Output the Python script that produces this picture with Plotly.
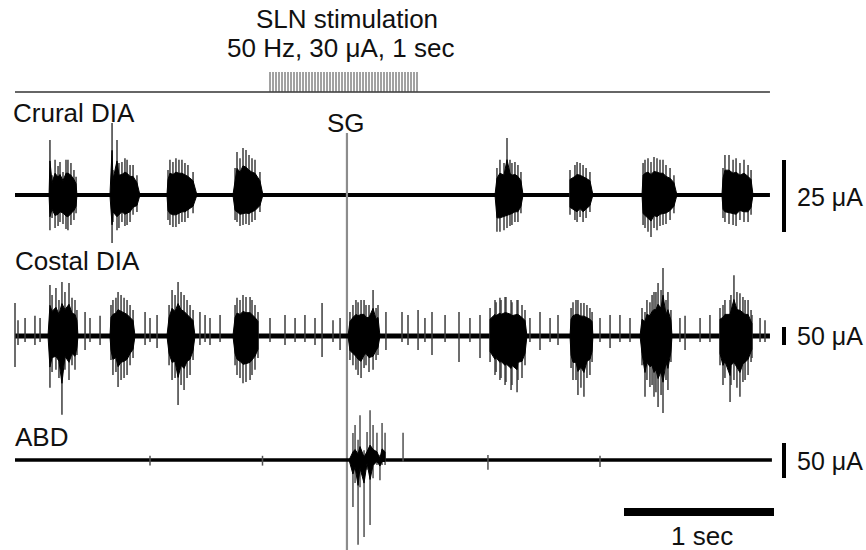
import plotly.graph_objects as go

# ---------------- data (time in s, amplitude in uA) ----------------
trace_end = 5.033
stim_onset = 1.70
stim_rate_hz = 50
stim_duration_s = 1.0
sg_time = 2.213

# Crural DIA bursts (onset / offset)
crural_on = [0.227, 0.633, 1.013, 1.453, 3.200, 3.700, 4.180, 4.713]
crural_off = [0.413, 0.833, 1.213, 1.653, 3.387, 3.853, 4.413, 4.920]
# Crural DIA spikes
crural_spike_t = [0.233, 0.267, 0.300, 0.340, 0.373, 0.647, 0.680, 0.713, 0.747, 0.787,
                  1.033, 1.073, 1.113, 1.153, 1.480, 1.520, 1.560, 1.600,
                  3.213, 3.280, 3.313, 3.353, 3.733, 3.767, 3.807,
                  4.200, 4.240, 4.280, 4.320, 4.367, 4.733, 4.787, 4.833, 4.887,
                  0.247, 0.287, 0.320, 0.353, 0.393, 0.407,
                  0.653, 0.693, 0.733, 0.767, 0.813,
                  1.020, 1.053, 1.093, 1.133, 1.187,
                  1.467, 1.500, 1.540, 1.580, 1.633,
                  3.233, 3.260, 3.300, 3.333, 3.373,
                  3.700, 3.747, 3.787, 3.833,
                  4.187, 4.220, 4.260, 4.300, 4.340, 4.393,
                  4.720, 4.760, 4.807, 4.860, 4.907]
crural_spike_up = [19.1, 12.2, 11.5, 12.2, 11.1, 25.0, 19.1, 11.5, 12.2, 10.4,
                   12.2, 12.8, 12.2, 10.4, 14.9, 16.3, 13.9, 12.2,
                   9.4, 19.8, 11.1, 10.4, 10.4, 11.1, 9.4,
                   12.2, 11.5, 12.8, 12.2, 9.4, 13.9, 12.2, 11.1, 10.4,
                   6.9, 10.1, 8.0, 12.2, 8.7, 6.3,
                   8.7, 11.1, 12.8, 10.4, 6.9,
                   8.7, 11.5, 12.2, 11.1, 8.0,
                   9.4, 12.8, 15.6, 12.8, 8.0,
                   12.2, 11.1, 12.2, 11.5, 8.0,
                   8.7, 11.5, 10.4, 8.0,
                   11.1, 12.8, 13.2, 12.2, 10.4, 6.9,
                   9.4, 13.9, 12.8, 12.2, 8.7]
crural_spike_down = [-12.2, -11.5, -9.4, -11.8, -10.4, -16.7, -12.2, -9.4, -10.4, -6.9,
                     -10.4, -11.1, -9.4, -8.0, -9.4, -10.4, -10.4, -8.7,
                     -12.8, -11.5, -10.4, -9.4, -8.7, -7.6, -8.0,
                     -11.5, -14.6, -12.2, -10.4, -8.7, -9.4, -10.4, -8.7, -9.4,
                     -8.0, -10.8, -10.1, -12.2, -8.7, -6.3,
                     -9.4, -11.5, -10.8, -9.4, -5.9,
                     -8.7, -11.1, -10.1, -9.4, -6.3,
                     -8.7, -10.8, -10.1, -9.4, -5.9,
                     -12.8, -12.2, -10.8, -9.4, -6.3,
                     -6.9, -9.4, -9.4, -5.9,
                     -10.4, -12.8, -11.5, -10.8, -10.1, -6.3,
                     -8.0, -10.1, -10.8, -9.4, -6.9]

# Costal DIA bursts
costal_on = [0.220, 0.633, 1.013, 1.453, 2.220, 3.167, 3.700, 4.167, 4.700]
costal_off = [0.420, 0.800, 1.200, 1.620, 2.433, 3.413, 3.853, 4.380, 4.913]
# Costal DIA spikes
costal_spike_t = [0.000, 0.233, 0.273, 0.313, 0.360, 0.400, 0.653, 0.687, 0.727, 0.767,
                  1.047, 1.087, 1.127, 1.167, 1.233, 1.480, 1.520, 1.567, 1.600,
                  2.273, 2.307, 2.340, 2.387, 2.420,
                  3.200, 3.233, 3.267, 3.307, 3.347, 3.380,
                  3.720, 3.753, 3.793, 3.833,
                  4.200, 4.233, 4.260, 4.287, 4.320, 4.353,
                  4.720, 4.767, 4.793, 4.833, 4.867, 4.913,
                  0.020, 0.067, 0.133, 0.167, 0.467, 0.500, 0.567, 0.867, 0.900, 0.947,
                  1.267, 1.300, 1.367, 1.700, 1.800, 1.867, 1.933, 2.000, 2.047, 2.120,
                  2.167, 2.473, 2.580, 2.620, 2.687, 2.733, 2.780, 2.867, 2.960, 3.033,
                  3.100, 3.433, 3.500, 3.567, 3.620, 3.900, 3.967, 4.033, 4.100, 4.433,
                  4.467, 4.567, 4.633, 4.967, 5.000,
                  0.247, 0.293, 0.333, 0.380, 0.413,
                  0.640, 0.673, 0.707, 0.747, 0.787,
                  1.027, 1.067, 1.107, 1.147, 1.187,
                  1.467, 1.500, 1.540, 1.580, 1.620,
                  2.233, 2.253, 2.287, 2.327, 2.360, 2.407,
                  3.167, 3.207, 3.240, 3.273, 3.313, 3.353, 3.400,
                  3.707, 3.740, 3.773, 3.813, 3.847,
                  4.180, 4.213, 4.247, 4.273, 4.307, 4.340, 4.373,
                  4.700, 4.733, 4.773, 4.813, 4.853, 4.887, 4.907]
costal_spike_up = [92, 142, 133, 150, 147, 100, 100, 122, 106, 86,
                   128, 150, 114, 86, 67, 106, 114, 108, 86,
                   100, 100, 86, 128, 86,
                   100, 106, 108, 100, 100, 86,
                   94, 100, 92, 78,
                   67, 94, 122, 147, 189, 122,
                   86, 100, 169, 119, 100, 58,
                   44, 50, 56, 50, 67, 50, 56, 67, 50, 58,
                   58, 50, 58, 50, 58, 50, 58, 50, 92, 44,
                   50, 67, 67, 58, 72, 50, 67, 58, 67, 50,
                   58, 50, 67, 50, 58, 50, 58, 58, 50, 50,
                   56, 50, 58, 50, 44,
                   114, 100, 122, 106, 72,
                   86, 106, 114, 100, 72,
                   86, 114, 122, 100, 72,
                   86, 100, 108, 100, 67,
                   67, 86, 94, 100, 86, 78,
                   78, 94, 100, 108, 94, 100, 72,
                   78, 100, 92, 86, 67,
                   78, 100, 114, 122, 128, 100, 72,
                   78, 100, 114, 122, 108, 100, 72]
costal_spike_down = [-86, -144, -94, -219, -122, -94, -108, -142, -117, -81,
                     -122, -192, -150, -108, -25, -108, -131, -122, -94,
                     -94, -117, -81, -94, -53,
                     -108, -122, -136, -150, -156, -117,
                     -122, -164, -169, -108,
                     -169, -142, -169, -197, -214, -150,
                     -136, -183, -122, -169, -122, -61,
                     -25, -17, -25, -17, -39, -17, -25, -25, -17, -33,
                     -17, -25, -17, -17, -25, -17, -17, -25, -58, -17,
                     -39, -39, -17, -25, -39, -17, -53, -17, -72, -17,
                     -61, -17, -39, -17, -25, -17, -33, -17, -17, -17,
                     -39, -17, -17, -17, -17,
                     -100, -117, -94, -81, -53,
                     -67, -100, -122, -108, -61,
                     -81, -117, -136, -117, -67,
                     -81, -117, -128, -108, -61,
                     -67, -81, -108, -89, -100, -67,
                     -72, -100, -117, -128, -136, -122, -81,
                     -89, -122, -144, -117, -72,
                     -81, -122, -136, -156, -164, -122, -72,
                     -81, -117, -136, -144, -128, -108, -72]

# ABD burst and spikes
abd_on = [2.227]
abd_off = [2.467]
abd_spike_t = [2.253, 2.267, 2.287, 2.300, 2.327, 2.347, 2.367, 2.387, 2.413, 2.433,
               2.447, 2.467, 2.587, 0.900, 1.650, 3.153, 3.900]
abd_spike_up = [38.6, 50, 29, 64, 14, 40, 71, 50, 39, 7, 53, 39, 39, 6, 6, 7, 6]
abd_spike_down = [-67, -33, -121, -39, -110, -14, -93, -26, -7, -29, -7, -7, -3,
                  -8, -8, -14, -10]

# scale bars
crural_bar_uA = 25
costal_bar_uA = 50
abd_bar_uA = 50
time_bar_s = 1.0

# ---------------- layout constants (pixels of the 866x550 photo) ----------------
W, H = 866, 550
OFF = 0            # page body margin is removed by the post script below
PX_PER_S = 150.0
X0 = 15.0
FONT = "Liberation Sans, Arial, sans-serif"
FS = 26


def t_of(px):
    return (px - X0) / PX_PER_S


# channel: baseline pixel and pixels per unit
CH = {
    "y": (195.0, 2.88),   # crural
    "y2": (336.0, 0.36),  # costal
    "y3": (460.0, 0.70),  # abd
    "y4": (92.0, 20.0),   # stimulus row
}


def v_of(axis, py):
    base, g = CH[axis]
    return (base - py) / g


fig = go.Figure()


def add_cores(on, off, ts, ups, downs, axis, k):
    """Dense burst core: a jagged band through the burst's own spikes (scaled by k)."""
    xs, ys = [], []
    for a, b in zip(on, off):
        sp = sorted((t, u, d) for t, u, d in zip(ts, ups, downs) if a <= t <= b)
        upper = [(a, 0)] + [(t, k * u) for t, u, _ in sp] + [(b, 0)]
        lower = [(t, k * d) for t, _, d in reversed(sp)] + [(a, 0)]
        for p in upper + lower:
            xs.append(p[0]); ys.append(p[1])
        xs.append(None); ys.append(None)
    fig.add_trace(go.Scatter(x=xs, y=ys, mode="lines", fill="toself",
                             fillcolor="black", line=dict(color="black", width=1),
                             yaxis=axis, hoverinfo="skip"))


def add_spikes(ts, ups, downs, axis, color="#3a3a3a", width=1.4):
    xs, ys = [], []
    for t, u, d in zip(ts, ups, downs):
        xs += [t, t, None]
        ys += [u, d, None]
    fig.add_trace(go.Scatter(x=xs, y=ys, mode="lines",
                             line=dict(color=color, width=width),
                             yaxis=axis, hoverinfo="skip"))


def add_baseline(axis, end, width):
    fig.add_trace(go.Scatter(x=[0, end], y=[0, 0], mode="lines",
                             line=dict(color="black", width=width),
                             yaxis=axis, hoverinfo="skip"))


# Crural
add_baseline("y", trace_end, 4)
add_spikes(crural_spike_t, crural_spike_up, crural_spike_down, "y", "#3c3c3c", 1.5)
add_cores(crural_on, crural_off, crural_spike_t, crural_spike_up, crural_spike_down, "y", 0.62)
# Costal
add_baseline("y2", trace_end, 5)
add_spikes(costal_spike_t, costal_spike_up, costal_spike_down, "y2", "#3c3c3c", 1.5)
add_cores(costal_on, costal_off, costal_spike_t, costal_spike_up, costal_spike_down, "y2", 0.6)
# ABD
add_baseline("y3", trace_end + 0.013, 3.5)
add_spikes(abd_spike_t, abd_spike_up, abd_spike_down, "y3", "#505050", 1.5)
add_cores(abd_on, abd_off, abd_spike_t, abd_spike_up, abd_spike_down, "y3", 0.3)

# SG marker line (drawn on crural axis)
fig.add_trace(go.Scatter(x=[sg_time, sg_time], y=[v_of("y", 133), v_of("y", 560)],
                         mode="lines", line=dict(color="#8c8c8c", width=2.2),
                         yaxis="y", hoverinfo="skip"))

# Stimulus row
fig.add_trace(go.Scatter(x=[0, trace_end], y=[0, 0], mode="lines",
                         line=dict(color="#333333", width=1.3), yaxis="y4",
                         hoverinfo="skip"))
n_pulses = int(round(stim_rate_hz * stim_duration_s))
sx, sy = [], []
for k in range(n_pulses):
    tp = stim_onset + k / stim_rate_hz
    sx += [tp, tp, None]
    sy += [0, 1, None]
fig.add_trace(go.Scatter(x=sx, y=sy, mode="lines", line=dict(color="#444444", width=1),
                         yaxis="y4", hoverinfo="skip"))

# Amplitude scale bars
tb = t_of(784)
for axis, amp, top_px in (("y", crural_bar_uA, 160), ("y2", costal_bar_uA, 327),
                           ("y3", abd_bar_uA, 443)):
    top = v_of(axis, top_px)
    fig.add_trace(go.Scatter(x=[tb, tb], y=[top, top - amp], mode="lines",
                             line=dict(color="black", width=4), yaxis=axis,
                             hoverinfo="skip"))
# Time scale bar
tb0 = t_of(624)
fig.add_trace(go.Scatter(x=[tb0, tb0 + time_bar_s], y=[v_of("y3", 512)] * 2, mode="lines",
                         line=dict(color="black", width=8), yaxis="y3", hoverinfo="skip"))

ann = []


def text(s, px_x, px_y, axis, xanchor="center", size=FS):
    ann.append(dict(text=s, x=t_of(px_x), y=v_of(axis, px_y), xref="x",
                    yref=axis, xanchor=xanchor, yanchor="middle", showarrow=False,
                    font=dict(family=FONT, size=size, color="#111111")))


text("SLN stimulation", 347, 19, "y4")
text("50 Hz, 30 μA, 1 sec", 340, 48, "y4")
text("Crural DIA", 11, 113, "y", "left")
text("SG", 346, 123, "y")
text("Costal DIA", 13, 261, "y2", "left")
text("ABD", 13, 437, "y3", "left")
text(f"{crural_bar_uA} μA", 795, 197, "y", "left", 25)
text(f"{costal_bar_uA} μA", 795, 336, "y2", "left", 25)
text(f"{abd_bar_uA} μA", 795, 461, "y3", "left", 25)
text(f"{time_bar_s:g} sec", 702, 536, "y3")


def yrange(axis):
    base, g = CH[axis]
    return [(base - (H + OFF)) / g, (base - OFF) / g]


hidden = dict(visible=False, fixedrange=True)
fig.update_layout(
    width=W, height=H, margin=dict(l=0, r=0, t=0, b=0),
    paper_bgcolor="white", plot_bgcolor="white", showlegend=False,
    xaxis=dict(range=[t_of(OFF), t_of(W + OFF)], domain=[0, 1], **hidden),
    yaxis=dict(range=yrange("y"), domain=[0, 1], **hidden),
    yaxis2=dict(range=yrange("y2"), overlaying="y", **hidden),
    yaxis3=dict(range=yrange("y3"), overlaying="y", **hidden),
    yaxis4=dict(range=yrange("y4"), overlaying="y", **hidden),
    annotations=ann,
)

fig.write_html("out.html",
               config={"displayModeBar": False, "staticPlot": True},
               post_script="document.body.style.margin='0';document.body.style.overflow='hidden';")
